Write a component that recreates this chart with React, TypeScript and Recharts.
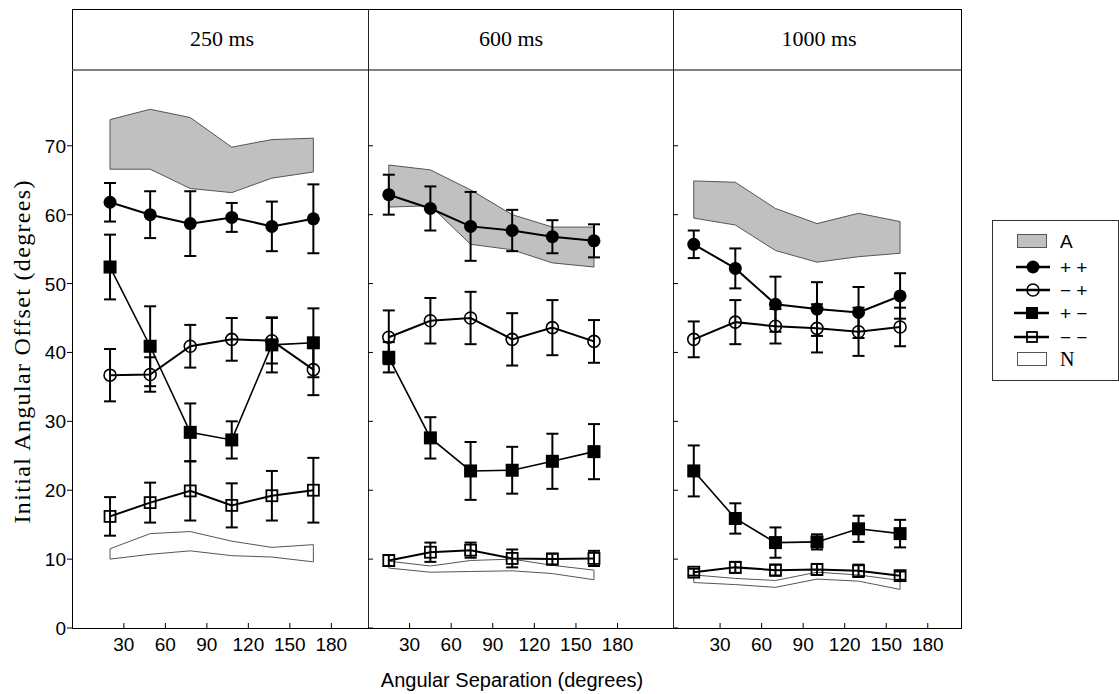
import React from 'react';
import { ComposedChart, Line, Area, XAxis, YAxis, ErrorBar, ReferenceLine } from 'recharts';

// presentation durations (one panel each)
const durations = ['250 ms', '600 ms', '1000 ms'];

// angular separation of each point, per panel
const separation = [
  [20, 49, 78, 108, 137, 167],
  [15, 45, 74, 104, 133, 163],
  [11, 41, 70, 100, 130, 160],
];

// "+ +" condition
const plusPlus = [
  [61.8, 60.0, 58.7, 59.6, 58.3, 59.4],
  [62.9, 60.9, 58.3, 57.7, 56.8, 56.2],
  [55.7, 52.2, 47.0, 46.3, 45.8, 48.2],
];
const plusPlusErr = [
  [2.8, 3.4, 4.7, 2.1, 3.6, 5.0],
  [2.9, 3.2, 5.0, 3.0, 2.4, 2.4],
  [2.0, 2.9, 4.0, 3.9, 3.7, 3.3],
];

// "- +" condition
const minusPlus = [
  [36.7, 36.8, 40.9, 41.9, 41.7, 37.5],
  [42.2, 44.6, 45.0, 41.9, 43.6, 41.6],
  [41.9, 44.4, 43.8, 43.5, 43.0, 43.7],
];
const minusPlusErr = [
  [3.8, 2.5, 3.1, 3.1, 3.3, 3.7],
  [3.9, 3.3, 3.8, 3.8, 4.0, 3.1],
  [2.6, 3.2, 2.5, 3.5, 3.5, 2.8],
];

// "+ -" condition
const plusMinus = [
  [52.4, 40.9, 28.4, 27.3, 41.1, 41.4],
  [39.3, 27.6, 22.8, 22.9, 24.2, 25.6],
  [22.8, 15.9, 12.4, 12.5, 14.4, 13.7],
];
const plusMinusErr = [
  [4.7, 5.8, 4.2, 2.7, 4.0, 5.0],
  [2.2, 3.0, 4.2, 3.4, 4.0, 4.0],
  [3.7, 2.2, 2.2, 1.1, 1.9, 2.0],
];

// "- -" condition
const minusMinus = [
  [16.2, 18.2, 19.9, 17.8, 19.2, 20.0],
  [9.8, 11.0, 11.3, 10.1, 10.0, 10.1],
  [8.1, 8.8, 8.4, 8.5, 8.3, 7.6],
];
const minusMinusErr = [
  [2.8, 2.9, 4.3, 3.2, 3.6, 4.7],
  [0.8, 1.4, 1.1, 1.3, 0.8, 1.1],
  [0.5, 0.8, 0.8, 0.8, 0.9, 0.6],
];

// shaded "A" band and open "N" band (low / high edges)
const bandALow = [
  [66.6, 66.6, 63.8, 63.2, 65.3, 66.2],
  [61.1, 61.3, 55.7, 54.9, 53.0, 52.4],
  [59.5, 58.5, 54.8, 53.1, 53.9, 54.4],
];
const bandAHigh = [
  [73.8, 75.3, 74.1, 69.8, 70.9, 71.1],
  [67.2, 66.5, 63.6, 60.0, 58.2, 58.2],
  [64.9, 64.7, 60.9, 58.7, 60.2, 59.0],
];
const bandNLow = [
  [10.0, 10.7, 11.2, 10.5, 10.3, 9.6],
  [8.7, 8.1, 8.2, 8.3, 7.9, 7.0],
  [6.6, 6.3, 5.9, 7.1, 6.8, 5.6],
];
const bandNHigh = [
  [11.5, 13.7, 14.0, 12.6, 11.7, 12.1],
  [9.7, 9.0, 9.8, 10.0, 9.1, 8.4],
  [7.7, 7.2, 6.9, 8.1, 7.7, 6.9],
];

const xTicks = [30, 60, 90, 120, 150, 180];
const yTicks = [0, 10, 20, 30, 40, 50, 60, 70];
const xDomains: [number, number][] = [[-7.5, 206.5], [0, 220], [-4, 204]];

// layout
const W = 1119;
const H = 694;
const TOP = 9;
const HEAD = 70;
const BOTTOM = 628;
const panelLeft = [72, 368, 673];
const panelRight = [368, 673, 961];
const titleX = [222, 511, 819];

const SANS = '"Liberation Sans", Arial, sans-serif';
const SERIF = '"Liberation Serif", "Times New Roman", serif';

const rows = (p: number) =>
  separation[p].map((x, i) => ({
    x,
    bandA: [bandALow[p][i], bandAHigh[p][i]],
    bandN: [bandNLow[p][i], bandNHigh[p][i]],
    pp: plusPlus[p][i],
    ppErr: plusPlusErr[p][i],
    mp: minusPlus[p][i],
    mpErr: minusPlusErr[p][i],
    pm: plusMinus[p][i],
    pmErr: plusMinusErr[p][i],
    mm: minusMinus[p][i],
    mmErr: minusMinusErr[p][i],
  }));

const XTick = (props: any) => {
  const { x, payload } = props;
  const y = BOTTOM;
  return (
    <g>
      <line x1={x} x2={x} y1={y} y2={y - 5} stroke="#000" strokeWidth={1} />
      <text x={x} y={y + 23} textAnchor="middle" fontSize={19} fontFamily={SANS} fill="#000">
        {payload.value}
      </text>
    </g>
  );
};

const YTickOuter = (props: any) => {
  const { y, payload } = props;
  const x = panelLeft[0];
  return (
    <g>
      <line x1={x} x2={x - 5} y1={y} y2={y} stroke="#000" strokeWidth={1} />
      <text x={x - 6} y={y + 7} textAnchor="end" fontSize={19} fontFamily={SANS} fill="#000">
        {payload.value}
      </text>
    </g>
  );
};

const yTickInner = (left: number) => (props: any) => {
  const { y } = props;
  return <line x1={left} x2={left + 5} y1={y} y2={y} stroke="#000" strokeWidth={1} />;
};

const FilledCircle = (p: any) =>
  p.cx == null ? <g key={p.key} /> : <circle key={p.key} cx={p.cx} cy={p.cy} r={6.5} fill="#000" />;
const OpenCircle = (p: any) =>
  p.cx == null ? <g key={p.key} /> : (
    <circle key={p.key} cx={p.cx} cy={p.cy} r={6} fill="none" stroke="#000" strokeWidth={1.6} />
  );
const FilledSquare = (p: any) =>
  p.cx == null ? <g key={p.key} /> : (
    <rect key={p.key} x={p.cx - 6.5} y={p.cy - 6.5} width={13} height={13} fill="#000" />
  );
const OpenSquare = (p: any) =>
  p.cx == null ? <g key={p.key} /> : (
    <rect key={p.key} x={p.cx - 5.5} y={p.cy - 5.5} width={11} height={11} fill="none" stroke="#000" strokeWidth={1.8} />
  );

function Panel({ p }: { p: number }) {
  const data = rows(p);
  const first = 0;
  const last = separation[p].length - 1;
  const ends = [first, last];
  return (
    <div style={{ position: 'absolute', left: 0, top: 0 }}>
      <ComposedChart
        width={W}
        height={H}
        data={data}
        margin={{ top: HEAD, bottom: H - BOTTOM - 2, left: panelLeft[p] - 2, right: W - panelRight[p] }}
      >
        <XAxis
          type="number"
          dataKey="x"
          domain={xDomains[p]}
          ticks={xTicks}
          allowDataOverflow
          height={2}
          tickSize={0}
          tickMargin={0}
          axisLine={false}
          tickLine={false}
          tick={(t: any) => <XTick {...t} />}
          interval={0}
        />
        <YAxis
          type="number"
          domain={[0, 81]}
          ticks={yTicks}
          allowDataOverflow
          width={2}
          tickSize={0}
          tickMargin={0}
          axisLine={false}
          tickLine={false}
          tick={p === 0 ? (t: any) => <YTickOuter {...t} /> : yTickInner(panelLeft[p])}
          interval={0}
        />
        <Area
          type="linear"
          dataKey="bandA"
          fill="#c0c0c0"
          fillOpacity={1}
          stroke="#555"
          strokeWidth={1}
          isAnimationActive={false}
          dot={false}
          activeDot={false}
        />
        <Area
          type="linear"
          dataKey="bandN"
          fill="#fff"
          fillOpacity={1}
          stroke="#555"
          strokeWidth={1}
          isAnimationActive={false}
          dot={false}
          activeDot={false}
        />
        {ends.map((i) => (
          <ReferenceLine
            key={`a${i}`}
            segment={[
              { x: separation[p][i], y: bandALow[p][i] },
              { x: separation[p][i], y: bandAHigh[p][i] },
            ]}
            stroke="#555"
            strokeWidth={1}
          />
        ))}
        {ends.map((i) => (
          <ReferenceLine
            key={`n${i}`}
            segment={[
              { x: separation[p][i], y: bandNLow[p][i] },
              { x: separation[p][i], y: bandNHigh[p][i] },
            ]}
            stroke="#555"
            strokeWidth={1}
          />
        ))}
        <Line type="linear" dataKey="mm" stroke="#000" strokeWidth={2} dot={OpenSquare} isAnimationActive={false}>
          <ErrorBar dataKey="mmErr" direction="y" width={6} strokeWidth={2} stroke="#000" />
        </Line>
        <Line type="linear" dataKey="pm" stroke="#000" strokeWidth={1.6} dot={FilledSquare} isAnimationActive={false}>
          <ErrorBar dataKey="pmErr" direction="y" width={6} strokeWidth={2} stroke="#000" />
        </Line>
        <Line type="linear" dataKey="mp" stroke="#000" strokeWidth={2} dot={OpenCircle} isAnimationActive={false}>
          <ErrorBar dataKey="mpErr" direction="y" width={6} strokeWidth={2} stroke="#000" />
        </Line>
        <Line type="linear" dataKey="pp" stroke="#000" strokeWidth={2} dot={FilledCircle} isAnimationActive={false}>
          <ErrorBar dataKey="ppErr" direction="y" width={6} strokeWidth={2} stroke="#000" />
        </Line>
      </ComposedChart>
    </div>
  );
}

function Frame() {
  return (
    <svg width={W} height={H} style={{ position: 'absolute', left: 0, top: 0 }}>
      <rect x={72.5} y={TOP + 0.5} width={961 - 72} height={BOTTOM - TOP} fill="#fff" stroke="#000" strokeWidth={1} />
      <line x1={72} x2={961} y1={HEAD} y2={HEAD} stroke="#555" strokeWidth={1.5} />
      <line x1={368.5} x2={368.5} y1={TOP} y2={BOTTOM} stroke="#222" strokeWidth={1} />
      <line x1={673.5} x2={673.5} y1={TOP} y2={BOTTOM} stroke="#222" strokeWidth={1} />
      {durations.map((d, i) => (
        <text key={d} x={titleX[i]} y={46} textAnchor="middle" fontSize={22} fontFamily={SERIF} fill="#000">
          {d}
        </text>
      ))}
      <text
        x={0}
        y={0}
        transform="translate(30 352) rotate(-90)"
        textAnchor="middle"
        fontSize={24}
        fontFamily={SERIF}
        fill="#000"
        textLength={343}
        lengthAdjust="spacing"
      >
        Initial Angular Offset (degrees)
      </text>
      <text x={512} y={687} textAnchor="middle" fontSize={20} fontFamily={SANS} fill="#000">
        Angular Separation (degrees)
      </text>
    </svg>
  );
}

function Key() {
  const sx = 1016;
  const ex = 1050;
  const cx = 1033;
  const tx = 1060;
  return (
    <svg width={W} height={H} style={{ position: 'absolute', left: 0, top: 0 }}>
      <rect x={992.5} y={220.5} width={126} height={160} fill="#fff" stroke="#333" strokeWidth={1} />
      <rect x={1017.5} y={234.5} width={29} height={13} fill="#c0c0c0" stroke="#555" />
      <text x={tx} y={248} fontSize={19} fontFamily={SANS}>A</text>
      <line x1={sx} x2={ex} y1={267} y2={267} stroke="#000" strokeWidth={2.5} />
      <circle cx={cx} cy={267} r={6.5} fill="#000" />
      <text x={tx} y={274} fontSize={19} fontFamily={SANS}>+ +</text>
      <line x1={sx} x2={ex} y1={290} y2={290} stroke="#000" strokeWidth={2.5} />
      <circle cx={cx} cy={290} r={6} fill="none" stroke="#000" strokeWidth={1.6} />
      <text x={tx} y={297} fontSize={19} fontFamily={SANS}>− +</text>
      <line x1={sx - 2} x2={ex - 1} y1={313} y2={313} stroke="#000" strokeWidth={2.5} />
      <rect x={cx - 7} y={307} width={12} height={12} fill="#000" />
      <text x={tx} y={320} fontSize={19} fontFamily={SANS}>+ −</text>
      <line x1={sx - 2} x2={ex - 1} y1={337} y2={337} stroke="#000" strokeWidth={2.5} />
      <rect x={cx - 6} y={332} width={10} height={10} fill="none" stroke="#000" strokeWidth={1.8} />
      <text x={tx} y={344} fontSize={19} fontFamily={SANS}>− −</text>
      <rect x={1017.5} y={352.5} width={29} height={13} fill="#fff" stroke="#555" />
      <text x={tx} y={366} fontSize={20} fontFamily={SERIF}>N</text>
    </svg>
  );
}

export default function App() {
  return (
    <div style={{ position: 'absolute', left: 0, top: 0, width: W, height: H, background: '#fff' }}>
      <Frame />
      {durations.map((d, i) => (
        <Panel key={d} p={i} />
      ))}
      <Key />
    </div>
  );
}
